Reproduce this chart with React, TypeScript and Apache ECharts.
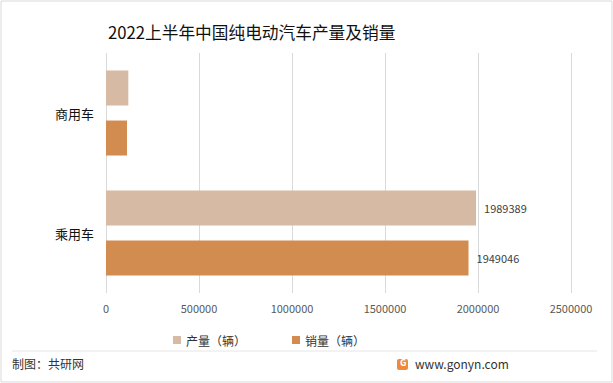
import React, { useEffect, useRef } from "react";
import * as echarts from "echarts";

const categories = ["商用车", "乘用车"];
const seriesNames = ["产量（辆）", "销量（辆）"];
const production = [120000, 1989389];
const sales = [113000, 1949046];
const showLabel = [false, true];
const xTicks = [0, 500000, 1000000, 1500000, 2000000, 2500000];

const FONT = "'Noto Sans CJK SC', 'Noto Sans', sans-serif";

export default function App() {
  const ref = useRef<HTMLDivElement>(null);
  useEffect(() => {
    document.body.style.margin = "0";
    const chart = echarts.init(ref.current!, null, { renderer: "svg" });
    const mk = (vals: number[]) =>
      vals.map((v, i) => ({
        value: v,
        label: { show: showLabel[i] },
      }));
    chart.setOption({
      animation: false,
      backgroundColor: "#fff",
      textStyle: { fontFamily: FONT },
      title: {
        text: "2022上半年中国纯电动汽车产量及销量",
        left: 103,
        top: 19,
        textStyle: { fontSize: 16.7, fontWeight: "normal", color: "#111", fontFamily: FONT },
      },
      legend: {
        top: 329,
        left: 168,
        itemWidth: 8,
        itemHeight: 8,
        itemGap: 46,
        icon: "rect",
        textStyle: { fontSize: 12, color: "#333", fontFamily: FONT },
        data: seriesNames,
      },
      grid: { left: 106, right: 42, top: 53, bottom: 90 },
      xAxis: {
        type: "value",
        min: xTicks[0],
        max: xTicks[xTicks.length - 1],
        interval: xTicks[1] - xTicks[0],
        axisLine: { show: false },
        axisTick: { show: false },
        splitLine: { lineStyle: { color: "#D9D9D9", width: 1 } },
        axisLabel: {
          color: "#595959",
          fontSize: 11,
          margin: 9,
          formatter: (v: number) => String(v),
        },
      },
      yAxis: {
        type: "category",
        inverse: true,
        data: categories,
        axisLine: { show: false },
        axisTick: { show: false },
        axisLabel: { color: "#111", fontSize: 13, margin: 12 },
      },
      series: [
        {
          name: seriesNames[0],
          type: "bar",
          barWidth: 35,
          barGap: "43%",
          itemStyle: { color: "#D6BAA4" },
          label: { position: "right", distance: 8, color: "#404040", fontSize: 11 },
          data: mk(production),
        },
        {
          name: seriesNames[1],
          type: "bar",
          barWidth: 35,
          barGap: "43%",
          itemStyle: { color: "#D38C4F" },
          label: { position: "right", distance: 8, color: "#404040", fontSize: 11 },
          data: mk(sales),
        },
      ],
      graphic: [
        {
          type: "rect",
          shape: { x: 1, y: 1, width: 611, height: 381 },
          style: { fill: "none", stroke: "#D9D9D9", lineWidth: 1 },
          silent: true,
        },
        {
          type: "line",
          shape: { x1: 12, y1: 351, x2: 597, y2: 351 },
          style: { stroke: "#E6E6E6", lineWidth: 1 },
        },
        {
          type: "text",
          left: 12,
          top: 357,
          style: { text: "制图：共研网", fill: "#333", fontSize: 12, fontFamily: FONT },
        },
        {
          type: "rect",
          shape: { x: 397, y: 359, width: 11, height: 11, r: 2 },
          style: { fill: "#EE8A3A" },
        },
        {
          type: "text",
          left: 400,
          top: 358,
          style: { text: "G", fill: "#fff", fontSize: 9, fontWeight: "bold", fontFamily: FONT },
        },
        {
          type: "text",
          left: 415,
          top: 357,
          style: { text: "www.gonyn.com", fill: "#333", fontSize: 12, fontFamily: FONT },
        },
      ],
    });
    return () => chart.dispose();
  }, []);
  return (
    <div
      ref={ref}
      style={{ position: "fixed", left: 0, top: 0, width: 613, height: 383 }}
    />
  );
}
